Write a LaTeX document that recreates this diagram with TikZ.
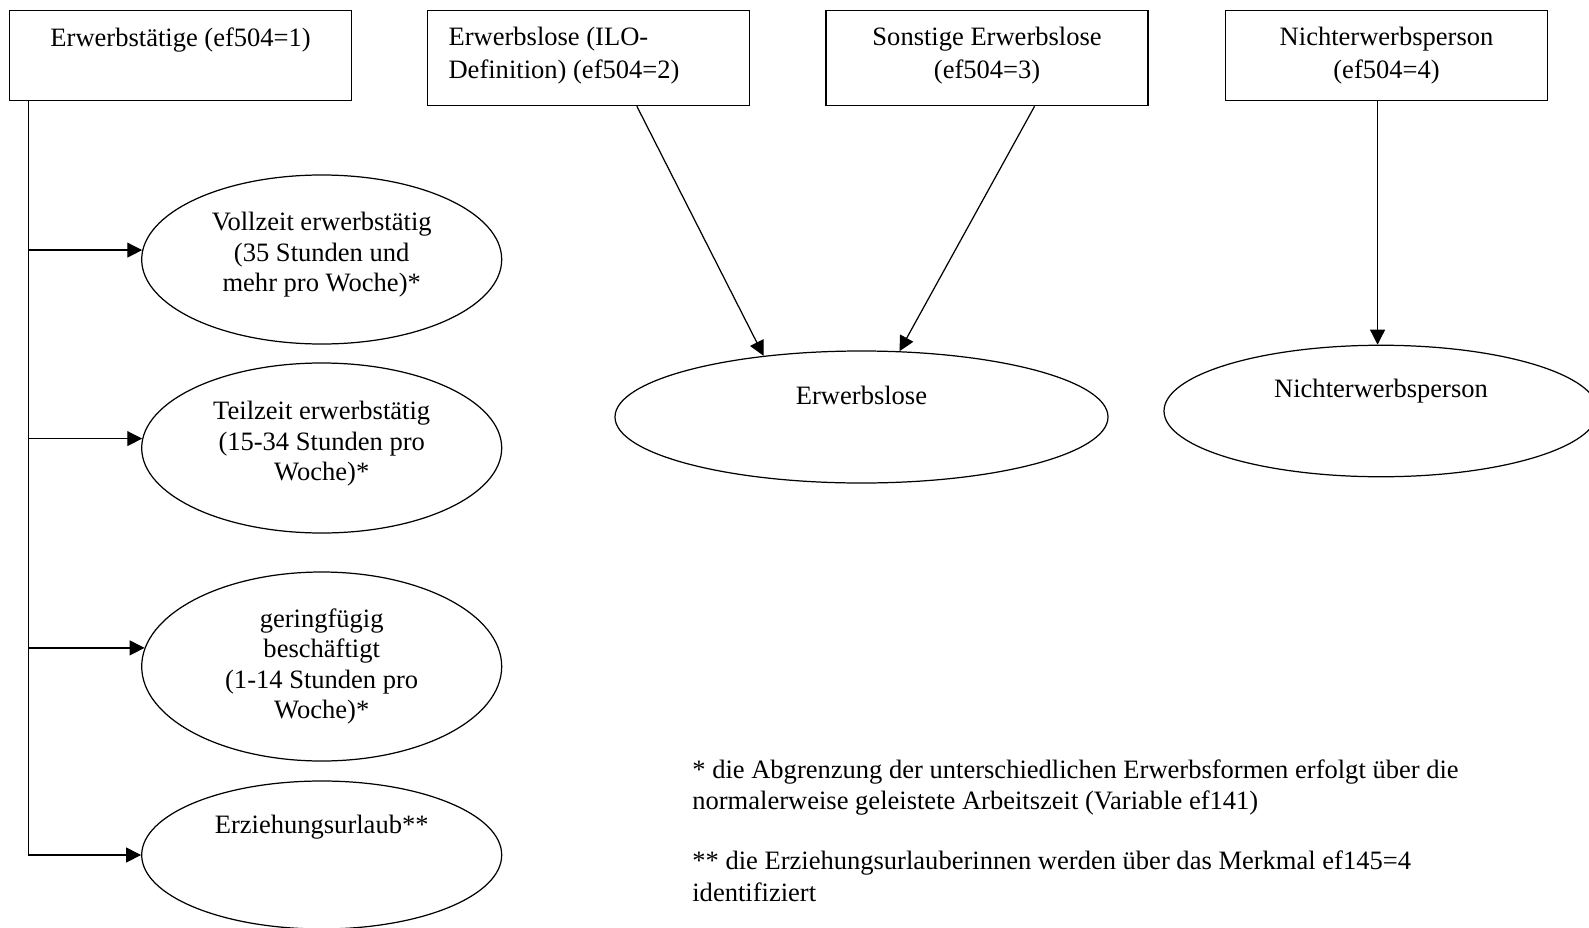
\documentclass[tikz,border=0pt]{standalone}
\usepackage{fontspec}
\setmainfont{Liberation Serif}
\usetikzlibrary{arrows.meta,positioning,shapes.geometric}

\begin{document}
\begin{tikzpicture}[
        font=\fontsize{15.1}{17.3}\selectfont,
        category/.style={
            draw,
            line width=0.7pt,
            minimum width=6.44cm,
            minimum height=1.9cm,
            inner sep=0pt
        },
        oval/.style={
            ellipse,
            draw,
            line width=0.7pt,
            minimum width=7.2cm,
            inner sep=0pt,
            align=center
        },
        caption/.style={inner sep=0pt, align=center},
        boxtext/.style={inner sep=0pt, align=center, font=\fontsize{15.1}{18.4}\selectfont},
        link/.style={-{Triangle[length=8.5pt,width=8.5pt]}, line width=0.7pt}
    ]
        \useasboundingbox (0,0) rectangle (31.78,-18.56);

        % top row
        \node[category, minimum width=6.84cm, minimum height=1.8cm, anchor=north west] (erw) at (0.18,-0.2) {};
        \node[category, right=1.5cm of erw.north east, anchor=north west] (ilo) {};
        \node[category, right=1.5cm of ilo.north east, anchor=north west] (sonst) {};
        \node[category, minimum width=6.43cm, minimum height=1.8cm, right=1.53cm of sonst.north east, anchor=north west] (nicht) {};

        \node[boxtext, below=0.34cm of erw.north] (erwT) {Erwerbstätige (ef504=1)};
        \node[boxtext, align=left, below right=0.34cm and 0.42cm of ilo.north west] (iloT) {Erwerbslose (ILO-\\Definition) (ef504=2)};
        \node[boxtext, below=0.34cm of sonst.north] (sonstT) {Sonstige Erwerbslose\\(ef504=3)};
        \node[boxtext, below=0.34cm of nicht.north] (nichtT) {Nichterwerbsperson\\(ef504=4)};

        % employed
        \node[oval, minimum height=3.38cm] (voll) at (6.434,-5.19) {};
        \node[caption] (vollT) at ([yshift=0.09cm]voll.center) {Vollzeit erwerbstätig\\(35 Stunden und\\mehr pro Woche)*};
        \node[oval, minimum height=3.40cm] (teil) at (6.434,-8.96) {};
        \node[caption] (teilT) at ([yshift=0.08cm]teil.center) {Teilzeit erwerbstätig\\(15-34 Stunden pro\\Woche)*};
        \node[oval, minimum height=3.78cm] (gering) at (6.434,-13.33) {geringfügig\\beschäftigt\\(1-14 Stunden pro\\Woche)*};
        \node[oval, minimum height=2.96cm] (erz) at (6.434,-17.1) {};
        \node[caption] (erzT) at ([yshift=0.56cm]erz.center) {Erziehungsurlaub**};

        % unemployed / inactive
        \node[oval, minimum width=9.86cm, minimum height=2.64cm] (erwl) at (17.23,-8.34) {};
        \node[caption] (erwlT) at ([yshift=0.44cm]erwl.center) {Erwerbslose};
        \node[oval, minimum width=8.68cm, minimum height=2.63cm] (nichtE) at (27.62,-8.22) {};
        \node[caption] (nichtET) at ([yshift=0.4cm]nichtE.center) {Nichterwerbsperson};

        \coordinate (trunk) at ([xshift=0.39cm]erw.south west);
        \draw[line width=0.7pt] (trunk) -- (trunk |- erz.west);
        \foreach \n/\a in {voll/177, teil/177, gering/174, erz/180}
            \draw[link] (\n.\a -| trunk) -- (\n.\a);

        \draw[link] ([xshift=0.96cm]ilo.south) -- (erwl.148);
        \draw[link] ([xshift=0.95cm]sonst.south) -- (erwl.60);
        \coordinate (n0) at ([xshift=-0.18cm]nicht.south);
        \draw[link] (n0) -- (n0 |- nichtE.north);

        % footnotes
        \node[inner sep=0pt, align=left, anchor=north west, font=\fontsize{15.1}{18.1}\selectfont] (note) at (13.84,-15.18)
            {* die Abgrenzung der unterschiedlichen Erwerbsformen erfolgt über die\\normalerweise geleistete Arbeitszeit (Variable ef141)\\[16pt]{**} die Erziehungsurlauberinnen werden über das Merkmal ef145=4\\identifiziert};
    \end{tikzpicture}
\end{document}
